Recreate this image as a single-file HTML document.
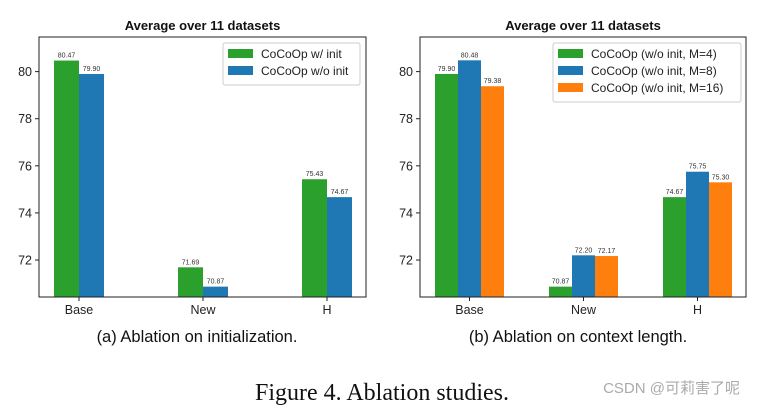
<!DOCTYPE html>
<html><head><meta charset="utf-8"><style>
body{margin:0;background:#fff;width:757px;height:408px;overflow:hidden;font-family:"Liberation Sans","DejaVu Sans",sans-serif}
svg{display:block}
</style></head><body>
<svg id="s" width="757" height="408" xmlns="http://www.w3.org/2000/svg">
<text x="197" y="342" font-size="16.5" text-anchor="middle" fill="#111">(a) Ablation on initialization.</text>
<text x="578" y="342" font-size="16.5" text-anchor="middle" fill="#111">(b) Ablation on context length.</text>
<text x="382" y="400" font-size="24" text-anchor="middle" font-family="Liberation Serif,serif" fill="#111">Figure 4. Ablation studies.</text>
<text x="740" y="393" font-size="15" text-anchor="end" fill="#aaa" font-family="Liberation Sans,'Noto Sans CJK SC',sans-serif">CSDN @可莉害了呢</text>
</svg>
<script>
const categories=["Base","New","H"];
const yTicks=[72,74,76,78,80];
const aSeriesNames=["CoCoOp w/ init","CoCoOp w/o init"];
const aWithInit=[80.47,71.69,75.43];
const aWithoutInit=[79.90,70.87,74.67];
const bSeriesNames=["CoCoOp (w/o init, M=4)","CoCoOp (w/o init, M=8)","CoCoOp (w/o init, M=16)"];
const bM4=[79.90,70.87,74.67];
const bM8=[80.48,72.20,75.75];
const bM16=[79.38,72.17,75.30];

const NS="http://www.w3.org/2000/svg";
const svg=document.getElementById('s');
function mk(t,a,p){const e=document.createElementNS(NS,t);for(const k in a)e.setAttribute(k,a[k]);(p||svg).appendChild(e);return e;}
const colors=["#2ca02c","#1f77b4","#ff7f0e"];
function chart(opt){
  const g=mk('g',{});
  
  
  const x0=opt.x0,x1=opt.x1,y0=37,y1=297,ymin=70.43,ymax=81.47;
  const y=v=>y1-(v-ymin)/(ymax-ymin)*(y1-y0);
  const t=mk('text',{x:(x0+x1)/2,y:30,'font-size':13,'font-weight':'bold','text-anchor':'middle',fill:'#111'},g);
  t.textContent="Average over 11 datasets";
  
  
  yTicks.forEach(v=>{
    const l=mk('line',{x1:x0-4,x2:x0,y1:y(v),y2:y(v),stroke:'#222'},g);
    
    
    const tx=mk('text',{x:x0-7,y:y(v)+4.5,'font-size':12.5,'text-anchor':'end',fill:'#222'},g);
    tx.textContent=v;
    
    
  });
  const n=opt.series.length;
  categories.forEach((c,i)=>{
    const cx=opt.c0+i*opt.sp;
    opt.series.forEach((s,j)=>{
      const bx=cx+(j-(n-1)/2)*opt.bw-opt.bw/2;
      const r=mk('rect',{x:bx,y:y(s[i]),width:opt.bw,height:y1-y(s[i]),fill:colors[j]},g);
      
      
      const lt=mk('text',{x:bx+opt.bw/2,y:y(s[i])-3,'font-size':7,'text-anchor':'middle',fill:'#333'},g);
      lt.textContent=s[i].toFixed(2);
      
      
    });
    const tk=mk('line',{x1:cx,x2:cx,y1:y1,y2:y1+4,stroke:'#222'},g);
    
    
    const xl=mk('text',{x:cx,y:y1+17,'font-size':12.5,'text-anchor':'middle',fill:'#222'},g);
    xl.textContent=c;
    
    
  });
  const fr=mk('rect',{x:x0,y:y0,width:x1-x0,height:y1-y0,fill:'none',stroke:'#222','stroke-width':1},g);
  
  
  const L=opt.leg;
  const lg=mk('rect',{x:L.x,y:L.y,width:L.w,height:8+n*17,fill:'#fff',stroke:'#ccc',rx:2},g);
  
  
  opt.names.forEach((nm,j)=>{
    const sw=mk('rect',{x:L.x+5,y:L.y+6+j*17,width:25,height:9,fill:colors[j]},g);
    
    
    const lt=mk('text',{x:L.x+38,y:L.y+15+j*17,'font-size':12,fill:'#222'},g);
    lt.textContent=nm;
    
    
  });
}
chart({name:'chart-a',x0:39,x1:366,c0:79,sp:124,bw:25,series:[aWithInit,aWithoutInit],names:aSeriesNames,leg:{x:223,y:43,w:137}});
chart({name:'chart-b',x0:420,x1:746,c0:469.5,sp:114,bw:23,series:[bM4,bM8,bM16],names:bSeriesNames,leg:{x:553,y:43,w:188}});
</script>
</body></html>
